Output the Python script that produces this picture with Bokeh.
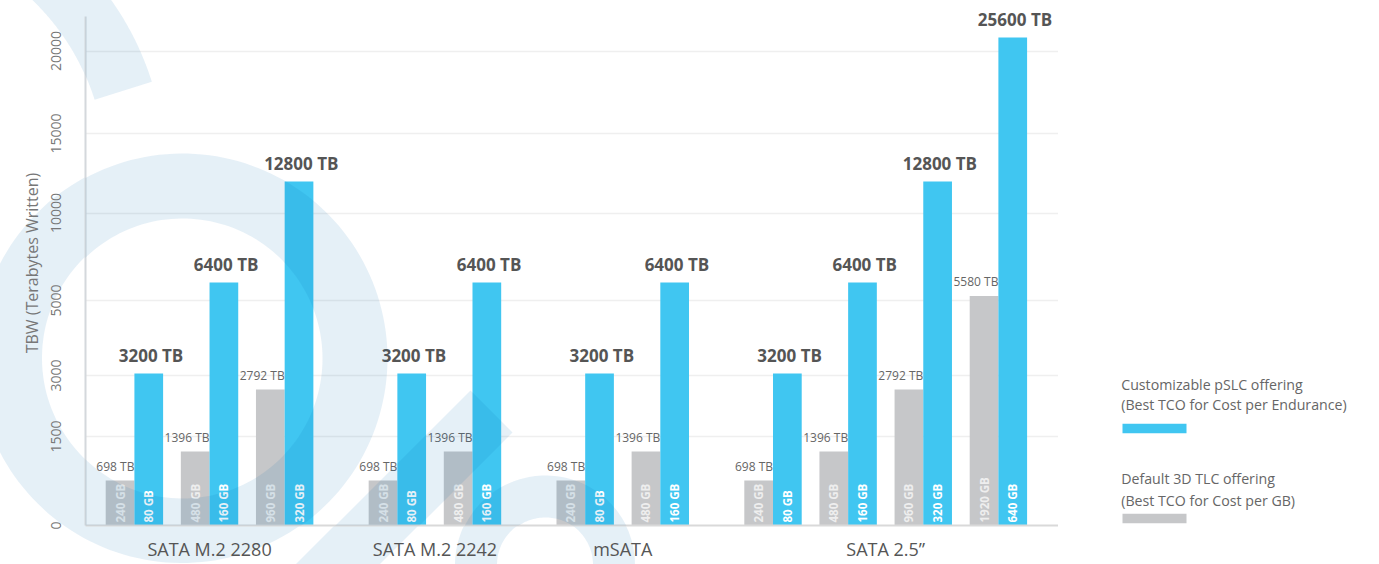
import urllib.parse
import numpy as np
from bokeh.plotting import figure
from bokeh.models import Range1d, FixedTicker, PolyAnnotation
from bokeh.layouts import row
from bokeh.embed import file_html
from bokeh.resources import INLINE
from bokeh.core.properties import value

# ---------------- data ----------------
groups = ["SATA M.2 2280", "SATA M.2 2280", "SATA M.2 2280",
          "SATA M.2 2242", "SATA M.2 2242",
          "mSATA", "mSATA",
          "SATA 2.5\u201d", "SATA 2.5\u201d", "SATA 2.5\u201d", "SATA 2.5\u201d"]
tlc_capacity = ["240 GB", "480 GB", "960 GB", "240 GB", "480 GB", "240 GB", "480 GB",
                "240 GB", "480 GB", "960 GB", "1920 GB"]
tlc_tbw = [698, 1396, 2792, 698, 1396, 698, 1396, 698, 1396, 2792, 5580]
pslc_capacity = ["80 GB", "160 GB", "320 GB", "80 GB", "160 GB", "80 GB", "160 GB",
                 "80 GB", "160 GB", "320 GB", "640 GB"]
pslc_tbw = [3200, 6400, 12800, 3200, 6400, 3200, 6400, 3200, 6400, 12800, 25600]
y_tick_values = [0, 1500, 3000, 5000, 10000, 15000, 20000]
legend_titles = ["Customizable pSLC offering", "Default 3D TLC offering"]
legend_subtitles = ["(Best TCO for Cost per Endurance)", "(Best TCO for Cost per GB)"]

# ---------------- styles ----------------
PSLC_COLOR = "#40c6f1"
TLC_COLOR = "#c6c7c9"
FONT = value("Open Sans")

# the infographic's non-linear display scale (TBW -> px above the baseline)
scale_tbw = [0, 698, 1396, 1500, 2792, 3000, 3200, 5000, 5580, 6400, 10000, 12800, 15000, 20000, 25600]
scale_pos = [0, 45, 74, 89, 136, 150, 152, 225, 229.5, 243, 312.5, 344, 392, 474.5, 488]


def warp(v):
    return np.interp(np.asarray(v, dtype=float), scale_tbw, scale_pos)


# x layout: one slot per capacity pair, half a slot gap between groups
group_names = list(dict.fromkeys(groups))
gidx = np.array([group_names.index(g) for g in groups])
slot = np.arange(len(groups)) + 0.5 * gidx
bar_w = 0.382
x_tlc = slot - bar_w / 2
x_pslc = slot + bar_w / 2
group_centers = [float(np.mean(slot[gidx == i])) for i in range(len(group_names))]

H = 564
W_MAIN = 1058
W_LEG = 1379 - W_MAIN
BORDER_BOTTOM = 39
FRAME_H = H - BORDER_BOTTOM

# translucent background decoration (canvas px)
def ring(cx, cy, r_in, r_out, a0=0.0, a1=360.0, n=180):
    t = np.radians(np.linspace(a0, a1, n))
    xs = np.concatenate([cx + r_out * np.cos(t), cx + r_in * np.cos(t[::-1])])
    ys = np.concatenate([cy + r_out * np.sin(t), cy + r_in * np.sin(t[::-1])])
    return list(xs), list(ys)

deco = [
    ring(-130, 170, 235, 295, -80, -17.5),
    ring(182, 358, 140, 205),
    ([470, 512, 364, 280], [390, 432, 580, 580]),
    ring(545, 565, 48, 90),
]
DECO_COLOR = "#006eb4"
DECO_ALPHA = 0.1

paths = []
for xs, ys in deco:
    d = "M" + " L".join(f"{x:.1f},{y:.1f}" for x, y in zip(xs, ys)) + " Z"
    paths.append(f'<path d="{d}" fill="{DECO_COLOR}" fill-opacity="{DECO_ALPHA}"/>')
svg = (f'<svg xmlns="http://www.w3.org/2000/svg" width="{W_MAIN}" height="{H}" '
       f'viewBox="0 0 {W_MAIN} {H}">' + "".join(paths) + "</svg>")
bg_uri = "data:image/svg+xml;charset=utf-8," + urllib.parse.quote(svg)

p = figure(width=W_MAIN, height=H, x_range=Range1d(-0.651, 12.30), y_range=Range1d(0, FRAME_H),
           output_backend="svg", toolbar_location=None,
           min_border_left=85, min_border_right=0, min_border_top=0, min_border_bottom=BORDER_BOTTOM)
p.outline_line_color = None
p.background_fill_color = "white"
p.border_fill_color = None
p.styles = {"background-color": "white", "background-image": f'url("{bg_uri}")',
            "background-repeat": "no-repeat", "background-size": f"{W_MAIN}px {H}px"}

# bars
p.vbar(x=x_tlc, top=warp(tlc_tbw), bottom=0, width=bar_w, fill_color=TLC_COLOR, line_color=None)
p.vbar(x=x_pslc, top=warp(pslc_tbw), bottom=0, width=bar_w, fill_color=PSLC_COLOR, line_color=None)

# value labels
p.text(x=x_pslc + 0.03, y=warp(pslc_tbw) + 18, text=[f"{v} TB" for v in pslc_tbw],
       text_align="center", text_baseline="alphabetic", text_font=FONT,
       text_font_size="17px", text_font_style="bold", text_color="#555555")
p.text(x=x_tlc + bar_w / 2, y=warp(tlc_tbw) + 14.5, text=[f"{v} TB" for v in tlc_tbw],
       text_align="right", text_baseline="alphabetic", text_font=FONT,
       text_font_size="12px", text_color="#666666")

# capacity labels inside bars
p.text(x=x_tlc, y=np.full(len(x_tlc), 3.0), text=tlc_capacity, angle=np.pi / 2,
       text_align="left", text_baseline="middle", text_font=FONT,
       text_font_size="11.5px", text_font_style="bold", text_color="#eeeeee")
p.text(x=x_pslc, y=np.full(len(x_pslc), 3.0), text=pslc_capacity, angle=np.pi / 2,
       text_align="left", text_baseline="middle", text_font=FONT,
       text_font_size="11.5px", text_font_style="bold", text_color="#ffffff")

# y axis
yticks = [float(t) for t in warp(y_tick_values)]
yticker = FixedTicker(ticks=yticks)
p.yaxis.ticker = yticker
p.yaxis.major_label_overrides = {t: str(v) for t, v in zip(yticks, y_tick_values)}
p.yaxis.bounds = (0, 509)
p.yaxis.major_label_orientation = "vertical"
p.yaxis.major_tick_out = 0
p.yaxis.major_tick_in = 0
p.yaxis.minor_tick_out = 0
p.yaxis.minor_tick_in = 0
p.yaxis.major_label_standoff = 25
p.yaxis.major_label_text_font = "Open Sans"
p.yaxis.major_label_text_font_size = "14px"
p.yaxis.major_label_text_color = "#777777"
p.yaxis.axis_line_color = "#d4d8dc"
p.yaxis.axis_line_width = 2
p.yaxis.axis_label = "TBW (Terabytes Written)"
p.yaxis.axis_label_text_font = "Open Sans"
p.yaxis.axis_label_text_font_style = "normal"
p.yaxis.axis_label_text_font_size = "16px"
p.yaxis.axis_label_text_color = "#777777"
p.yaxis.axis_label_standoff = 5
p.ygrid.ticker = yticker
p.ygrid.grid_line_color = "#efefef"
p.ygrid.grid_line_width = 1.5

# x axis
p.xaxis.ticker = FixedTicker(ticks=group_centers)
p.xaxis.major_label_overrides = {c: g for c, g in zip(group_centers, group_names)}
p.xaxis.major_tick_out = 0
p.xaxis.major_tick_in = 0
p.xaxis.minor_tick_out = 0
p.xaxis.minor_tick_in = 0
p.xaxis.major_label_standoff = 11
p.xaxis.major_label_text_font = "Open Sans"
p.xaxis.major_label_text_font_size = "18px"
p.xaxis.major_label_text_color = "#555555"
p.xaxis.axis_line_color = "#d9d9d9"
p.xaxis.axis_line_width = 2
p.xgrid.visible = False

# the same decoration drawn over the plot area, tinting the bars it crosses
for xs, ys in deco:
    p.add_layout(PolyAnnotation(xs=xs, ys=ys, xs_units="canvas", ys_units="canvas",
                                fill_color=DECO_COLOR, fill_alpha=DECO_ALPHA, line_color=None,
                                level="overlay"))

# ---------------- legend panel ----------------
# (its frame is aligned with the main plot's frame: canvas rows 0..FRAME_H)
lg = figure(width=W_LEG, height=H, x_range=Range1d(0, W_LEG), y_range=Range1d(FRAME_H, 0),
            output_backend="svg", toolbar_location=None, x_axis_type=None, y_axis_type=None,
            min_border_left=0, min_border_right=0, min_border_top=0, min_border_bottom=BORDER_BOTTOM)
lg.outline_line_color = None
lg.grid.visible = False
leg_colors = [PSLC_COLOR, TLC_COLOR]
title_y = [384, 478]
sub_y = [404, 499.5]
swatch_top = [423.3, 513.3]
lg.text(x=[62.7] * 2, y=title_y, text=legend_titles, text_font=FONT, text_font_size="14.2px",
        text_color="#666666", text_baseline="alphabetic", text_align="left")
lg.text(x=[62.7] * 2, y=sub_y, text=legend_subtitles, text_font=FONT, text_font_size="14.2px",
        text_color="#666666", text_baseline="alphabetic", text_align="left")
lg.quad(left=[64] * 2, right=[128] * 2, top=swatch_top, bottom=[t + 9.4 for t in swatch_top],
        fill_color=leg_colors, line_color=None)

layout = row(p, lg)
open("out.html", "w").write(file_html(layout, INLINE))
